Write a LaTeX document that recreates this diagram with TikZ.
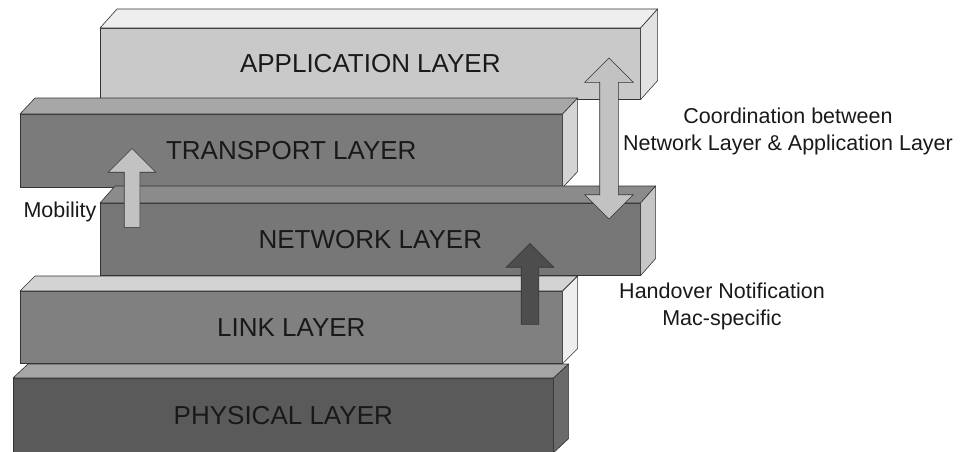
\documentclass[tikz,border=0pt]{standalone}
\usepackage{fontspec}
\setmainfont{Liberation Sans}
\usetikzlibrary{shapes.arrows, positioning}

\definecolor{appfront}{HTML}{C9C9C9}
\definecolor{apptop}{HTML}{EEEEEE}
\definecolor{appside}{HTML}{E2E2E2}
\definecolor{trfront}{HTML}{7B7B7B}
\definecolor{trtop}{HTML}{A7A7A7}
\definecolor{trside}{HTML}{D4D4D4}
\definecolor{netfront}{HTML}{777777}
\definecolor{nettop}{HTML}{8B8B8B}
\definecolor{netside}{HTML}{C6C6C6}
\definecolor{linkfront}{HTML}{808080}
\definecolor{linktop}{HTML}{D3D3D3}
\definecolor{linkside}{HTML}{EEEEEE}
\definecolor{phyfront}{HTML}{5A5A5A}
\definecolor{phytop}{HTML}{A5A5A5}
\definecolor{physide}{HTML}{6A6A6A}
\definecolor{arrowlight}{HTML}{C2C2C2}
\definecolor{arrowdark}{HTML}{4D4D4D}

\tikzset{
  layer/.style={rectangle, draw=black!80, line width=0.6pt, inner sep=0pt, anchor=north west, text=black!90, font=\fontsize{26}{26}\selectfont},
  face/.style={draw=black!80, line width=0.6pt, line join=round},
  note/.style={inner sep=0pt, align=center, text=black!90, font=\fontsize{21.5}{27}\selectfont},
  uparrow/.style={single arrow, draw=black!80, line width=0.6pt, rotate=90, inner xsep=0pt, anchor=tip},
  bothways/.style={double arrow, draw=black!80, line width=0.6pt, rotate=90, inner xsep=0pt},
}

% top and side face of a layer: name, dx, dy, top colour, side colour
\newcommand{\layerfaces}[5]{%
  \draw[face, fill=#4] (#1.north west) -- ++(#2,-#3) -- ([shift={(#2,-#3)}]#1.north east) -- (#1.north east) -- cycle;
  \draw[face, fill=#5] (#1.north east) -- ++(#2,-#3) -- ([shift={(#2,-#3)}]#1.south east) -- (#1.south east) -- cycle;
}

\begin{document}
\begin{tikzpicture}[x=1pt, y=-1pt]
\useasboundingbox (0,0) rectangle (967,451);

% the five layers, back to front
\node[layer, fill=appfront, minimum width=540pt, minimum height=71pt] (app) at (100,28) {APPLICATION LAYER};
\layerfaces{app}{17}{19}{apptop}{appside}
\node[layer, fill=trfront, minimum width=542pt, minimum height=73pt] (transport) at (20,114) {TRANSPORT LAYER};
\layerfaces{transport}{15}{16}{trtop}{trside}
\node[layer, fill=netfront, minimum width=540pt, minimum height=72pt] (network) at (100,203) {NETWORK LAYER};
\layerfaces{network}{15}{17}{nettop}{netside}
\node[layer, fill=linkfront, minimum width=542pt, minimum height=72pt] (link) at (20,291) {LINK LAYER};
\layerfaces{link}{15}{15}{linktop}{linkside}
\node[layer, fill=phyfront, minimum width=540pt, minimum height=74pt] (physical) at (13,378) {PHYSICAL LAYER};
\layerfaces{physical}{15}{14}{phytop}{physide}

% block arrows
\node[uparrow, fill=arrowlight, inner ysep=7.5pt, single arrow head extend=16pt, minimum height=79pt] (mobarrow) at (132,148) {};
\node[bothways, fill=arrowlight, inner ysep=9pt, double arrow head extend=15pt, minimum height=161pt] (coordarrow) at (609,138.5) {};
\node[uparrow, fill=arrowdark, inner ysep=8.5pt, single arrow head extend=15pt, minimum height=81pt] (hoarrow) at (530,243) {};

% labels
\node[note] (mobility) at (60,212) {Mobility};
\node[note] (coord) at (788,131) {Coordination between\\Network Layer \& Application Layer};
\node[note] (handover) at (722,306) {Handover Notification\\Mac-specific};
\end{tikzpicture}
\end{document}
